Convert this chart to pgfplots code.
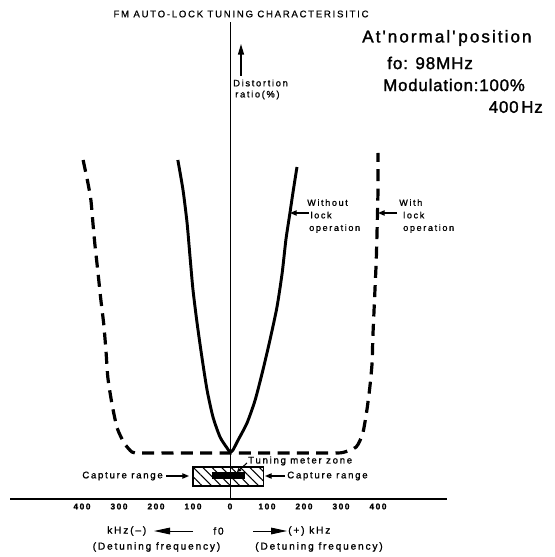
\documentclass[border=0pt]{standalone}
\usepackage{fontspec}
\setmainfont{Liberation Sans}
\usepackage{pgfplots}
\pgfplotsset{compat=1.18}
\usetikzlibrary{patterns.meta,arrows.meta}
\newfontfamily\spaced[LetterSpace=18,FakeBold=1.2]{Liberation Sans}
\newfontfamily\ttl[LetterSpace=18,FakeBold=0.8]{Liberation Sans}
\newfontfamily\wide[LetterSpace=5,FakeBold=1.6]{Liberation Sans}
\newfontfamily\wider[LetterSpace=12,FakeBold=1.6]{Liberation Sans}
\begin{document}
\begin{tikzpicture}
\begin{axis}[
  scale only axis, width=327.75pt, height=357.75pt,
  xmin=-594.59, xmax=586.49, ymin=0, ymax=477,
  axis x line=bottom, axis y line=middle,
  x axis line style={line width=1.3pt,-},
  y axis line style={line width=0.7pt,-},
  hide obscured x ticks=false,
  xtick={-400,-300,-200,-100,0,100,200,300,400},
  xticklabels={400,300,200,100,0,100,200,300,400},
  ytick=\empty,
  major tick length=0pt,
  xticklabel style={font=\spaced\bfseries\fontsize{6.3pt}{7pt}\selectfont, anchor=north, inner sep=0pt, yshift=-3.2pt},
  clip=false,
  axis on top,
]
% without lock operation (solid)
\addplot[line width=2.2pt, smooth, tension=0.4] coordinates {
(-141,339) (-127,309) (-116,276) (-108,242) (-100,209) (-89,176) (-76,142)
(-62,109) (-46,82) (-27,62) (-8,51) (0,47) (8,49) (22,59) (46,76) (68,99)
(89,129) (108,159) (127,192) (141,226) (151,259) (162,286) (170,306) (181,332)
};
% with lock operation (dashed)
\addplot[line width=2.4pt, dash pattern=on 9pt off 5.5pt, smooth, tension=0.4] coordinates {
(-397,339) (-384,316) (-376,299) (-370,274) (-365,254) (-357,227) (-349,199)
(-341,174) (-335,147) (-330,121) (-319,95) (-305,71) (-286,56) (-265,47)
(-243,46) (-150,46) (-50,46) (50,46) (150,46) (270,46) (305,46.5) (341,52)
(359,66) (370,89) (378,112) (384,136) (386,161) (389,186) (392,211) (395,236)
(397,261) (400,309) (400,346)
};
% capture range box and tuning meter zone
\draw[line width=0.9pt, pattern={Lines[angle=-45,distance=5pt,line width=0.8pt]}]
  (axis cs:-100,13) rectangle (axis cs:90,32);
\fill (axis cs:-49,20) rectangle (axis cs:41,27);
\coordinate (O) at (axis cs:0,0);
\end{axis}
\begin{scope}[x=0.75pt,y=-0.75pt,shift={(O)},shift={(-230,-499)}]
\node[font=\ttl\fontsize{7.2pt}{8pt}\selectfont, inner sep=0pt] at (241,14) {FM AUTO-LOCK TUNING CHARACTERISITIC};
\draw[line width=1pt, -{Triangle[length=8pt,width=4.5pt]}] (241,76) -- (241,44);
\node[anchor=west, inner sep=0pt, font=\spaced\fontsize{7pt}{8pt}\selectfont] at (233,83) {Distortion};
\node[anchor=west, inner sep=0pt, font=\spaced\fontsize{7pt}{8pt}\selectfont] at (235,95) {ratio\,(\%)};
\node[anchor=west, inner sep=0pt, font=\wider\fontsize{12.8pt}{14pt}\selectfont] at (362,38) {At'normal'\,position};
\node[anchor=west, inner sep=0pt, font=\wide\fontsize{12.8pt}{14pt}\selectfont] at (387,63) {fo: 98MHz};
\node[anchor=west, inner sep=0pt, font=\wide\fontsize{12.6pt}{14pt}\selectfont] at (383,85) {Modulation:100\%};
\node[anchor=east, inner sep=0pt, font=\wide\fontsize{12.6pt}{14pt}\selectfont] at (543,107) {400\,Hz};
\node[anchor=north west, inner sep=0pt, align=left, font=\spaced\fontsize{6.8pt}{9.4pt}\selectfont] at (307,199) {Without\\\hspace{2.5pt}lock\\\hspace{1.5pt}operation};
\draw[line width=0.9pt,-{Triangle[length=5pt,width=4pt]}] (309,213) -- (290,213);
\node[anchor=north west, inner sep=0pt, align=left, font=\spaced\fontsize{6.8pt}{9.4pt}\selectfont] at (399,199) {With\\\hspace{3pt}lock\\\hspace{3pt}operation};
\draw[line width=0.9pt,-{Triangle[length=5pt,width=4pt]}] (397,213) -- (378,213);
\node[anchor=east, inner sep=0pt, font=\spaced\fontsize{7.2pt}{8pt}\selectfont] at (163,476) {Capture range};
\draw[line width=0.9pt,-{Triangle[length=5pt,width=4pt]}] (166,476) -- (189,476);
\node[anchor=west, inner sep=0pt, font=\spaced\fontsize{7.2pt}{8pt}\selectfont] at (287,476) {Capture range};
\draw[line width=0.9pt,-{Triangle[length=5pt,width=4pt]}] (285,476) -- (265,476);
\node[anchor=west, inner sep=0pt, font=\spaced\fontsize{7.2pt}{8pt}\selectfont] at (248,461) {Tuning meter zone};
\draw[line width=0.8pt,-{Triangle[length=3pt,width=3pt]}] (247,463) -- (237,472);
\node[anchor=west, inner sep=0pt, font=\spaced\fontsize{7.6pt}{8pt}\selectfont] at (107,531) {kHz(\textendash)};
\draw[line width=0.7pt,-{Triangle[length=12pt,width=5pt]}] (193,531) -- (154,531);
\node[inner sep=0pt, font=\spaced\fontsize{7.6pt}{8pt}\selectfont] at (218.5,531) {f0};
\draw[line width=0.7pt,-{Triangle[length=12pt,width=5pt]}] (253,531) -- (287,531);
\node[anchor=west, inner sep=0pt, font=\spaced\fontsize{7.6pt}{8pt}\selectfont] at (288,531) {(+) kHz};
\node[inner sep=0pt, font=\spaced\fontsize{7.6pt}{8pt}\selectfont] at (156.5,547) {(Detuning frequency)};
\node[inner sep=0pt, font=\spaced\fontsize{7.6pt}{8pt}\selectfont] at (319,547) {(Detuning frequency)};
\pgfresetboundingbox
\path[use as bounding box] (0,0) rectangle (555,557);
\end{scope}
\end{tikzpicture}
\end{document}
